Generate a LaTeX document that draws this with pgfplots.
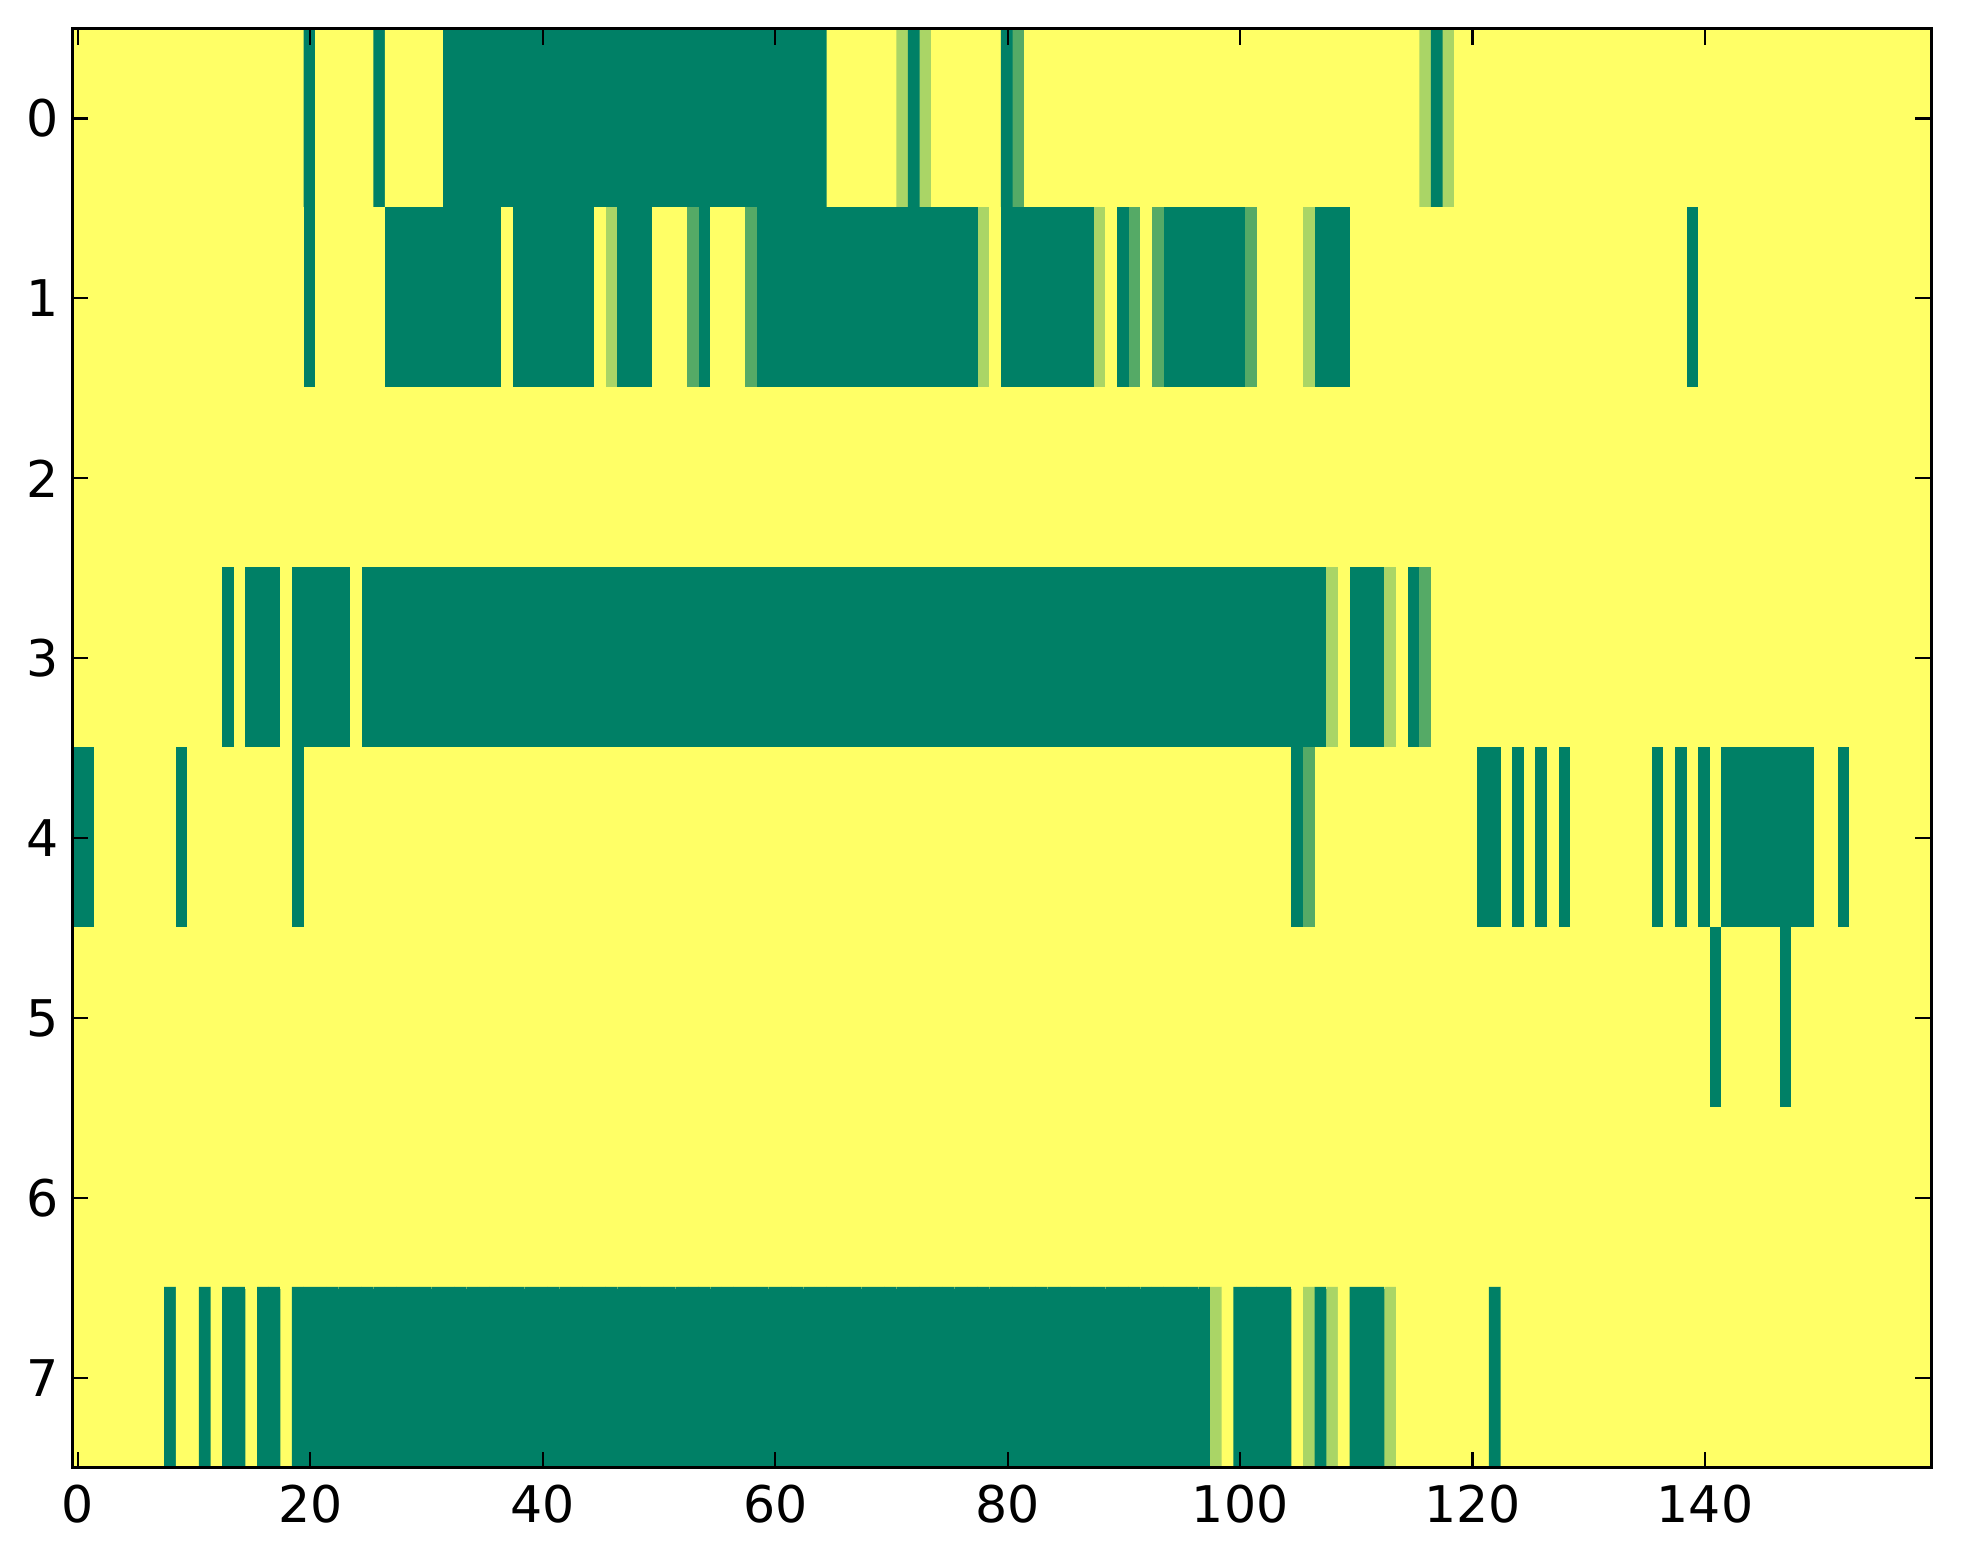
\documentclass[border=0pt]{standalone}
\usepackage{fontspec}
\setmainfont{DejaVu Sans}
\usepackage{pgfplots}
\usepackage{pgfplotstable}
\pgfplotsset{compat=1.18}
% 8 rows x 160 columns, row-major (row 0 first), 10 values per line
% 0 = dark green, 1 = medium green, 2 = light green, 3 = yellow
\pgfplotstableread[header=false,row sep=\\]{
3\\3\\3\\3\\3\\3\\3\\3\\3\\3\\ % r0 c0
3\\3\\3\\3\\3\\3\\3\\3\\3\\3\\ % r0 c10
0\\3\\3\\3\\3\\3\\0\\3\\3\\3\\ % r0 c20
3\\3\\0\\0\\0\\0\\0\\0\\0\\0\\ % r0 c30
0\\0\\0\\0\\0\\0\\0\\0\\0\\0\\ % r0 c40
0\\0\\0\\0\\0\\0\\0\\0\\0\\0\\ % r0 c50
0\\0\\0\\0\\0\\3\\3\\3\\3\\3\\ % r0 c60
3\\2\\0\\2\\3\\3\\3\\3\\3\\3\\ % r0 c70
0\\1\\3\\3\\3\\3\\3\\3\\3\\3\\ % r0 c80
3\\3\\3\\3\\3\\3\\3\\3\\3\\3\\ % r0 c90
3\\3\\3\\3\\3\\3\\3\\3\\3\\3\\ % r0 c100
3\\3\\3\\3\\3\\3\\2\\0\\2\\3\\ % r0 c110
3\\3\\3\\3\\3\\3\\3\\3\\3\\3\\ % r0 c120
3\\3\\3\\3\\3\\3\\3\\3\\3\\3\\ % r0 c130
3\\3\\3\\3\\3\\3\\3\\3\\3\\3\\ % r0 c140
3\\3\\3\\3\\3\\3\\3\\3\\3\\3\\ % r0 c150
3\\3\\3\\3\\3\\3\\3\\3\\3\\3\\ % r1 c0
3\\3\\3\\3\\3\\3\\3\\3\\3\\3\\ % r1 c10
0\\3\\3\\3\\3\\3\\3\\0\\0\\0\\ % r1 c20
0\\0\\0\\0\\0\\0\\0\\3\\0\\0\\ % r1 c30
0\\0\\0\\0\\0\\3\\2\\0\\0\\0\\ % r1 c40
3\\3\\3\\1\\0\\3\\3\\3\\1\\0\\ % r1 c50
0\\0\\0\\0\\0\\0\\0\\0\\0\\0\\ % r1 c60
0\\0\\0\\0\\0\\0\\0\\0\\2\\3\\ % r1 c70
0\\0\\0\\0\\0\\0\\0\\0\\2\\3\\ % r1 c80
0\\1\\3\\1\\0\\0\\0\\0\\0\\0\\ % r1 c90
0\\1\\3\\3\\3\\3\\2\\0\\0\\0\\ % r1 c100
3\\3\\3\\3\\3\\3\\3\\3\\3\\3\\ % r1 c110
3\\3\\3\\3\\3\\3\\3\\3\\3\\3\\ % r1 c120
3\\3\\3\\3\\3\\3\\3\\3\\3\\0\\ % r1 c130
3\\3\\3\\3\\3\\3\\3\\3\\3\\3\\ % r1 c140
3\\3\\3\\3\\3\\3\\3\\3\\3\\3\\ % r1 c150
3\\3\\3\\3\\3\\3\\3\\3\\3\\3\\ % r2 c0
3\\3\\3\\3\\3\\3\\3\\3\\3\\3\\ % r2 c10
3\\3\\3\\3\\3\\3\\3\\3\\3\\3\\ % r2 c20
3\\3\\3\\3\\3\\3\\3\\3\\3\\3\\ % r2 c30
3\\3\\3\\3\\3\\3\\3\\3\\3\\3\\ % r2 c40
3\\3\\3\\3\\3\\3\\3\\3\\3\\3\\ % r2 c50
3\\3\\3\\3\\3\\3\\3\\3\\3\\3\\ % r2 c60
3\\3\\3\\3\\3\\3\\3\\3\\3\\3\\ % r2 c70
3\\3\\3\\3\\3\\3\\3\\3\\3\\3\\ % r2 c80
3\\3\\3\\3\\3\\3\\3\\3\\3\\3\\ % r2 c90
3\\3\\3\\3\\3\\3\\3\\3\\3\\3\\ % r2 c100
3\\3\\3\\3\\3\\3\\3\\3\\3\\3\\ % r2 c110
3\\3\\3\\3\\3\\3\\3\\3\\3\\3\\ % r2 c120
3\\3\\3\\3\\3\\3\\3\\3\\3\\3\\ % r2 c130
3\\3\\3\\3\\3\\3\\3\\3\\3\\3\\ % r2 c140
3\\3\\3\\3\\3\\3\\3\\3\\3\\3\\ % r2 c150
3\\3\\3\\3\\3\\3\\3\\3\\3\\3\\ % r3 c0
3\\3\\3\\0\\3\\0\\0\\0\\3\\0\\ % r3 c10
0\\0\\0\\0\\3\\0\\0\\0\\0\\0\\ % r3 c20
0\\0\\0\\0\\0\\0\\0\\0\\0\\0\\ % r3 c30
0\\0\\0\\0\\0\\0\\0\\0\\0\\0\\ % r3 c40
0\\0\\0\\0\\0\\0\\0\\0\\0\\0\\ % r3 c50
0\\0\\0\\0\\0\\0\\0\\0\\0\\0\\ % r3 c60
0\\0\\0\\0\\0\\0\\0\\0\\0\\0\\ % r3 c70
0\\0\\0\\0\\0\\0\\0\\0\\0\\0\\ % r3 c80
0\\0\\0\\0\\0\\0\\0\\0\\0\\0\\ % r3 c90
0\\0\\0\\0\\0\\0\\0\\0\\2\\3\\ % r3 c100
0\\0\\0\\2\\3\\0\\1\\3\\3\\3\\ % r3 c110
3\\3\\3\\3\\3\\3\\3\\3\\3\\3\\ % r3 c120
3\\3\\3\\3\\3\\3\\3\\3\\3\\3\\ % r3 c130
3\\3\\3\\3\\3\\3\\3\\3\\3\\3\\ % r3 c140
3\\3\\3\\3\\3\\3\\3\\3\\3\\3\\ % r3 c150
0\\0\\3\\3\\3\\3\\3\\3\\3\\0\\ % r4 c0
3\\3\\3\\3\\3\\3\\3\\3\\3\\0\\ % r4 c10
3\\3\\3\\3\\3\\3\\3\\3\\3\\3\\ % r4 c20
3\\3\\3\\3\\3\\3\\3\\3\\3\\3\\ % r4 c30
3\\3\\3\\3\\3\\3\\3\\3\\3\\3\\ % r4 c40
3\\3\\3\\3\\3\\3\\3\\3\\3\\3\\ % r4 c50
3\\3\\3\\3\\3\\3\\3\\3\\3\\3\\ % r4 c60
3\\3\\3\\3\\3\\3\\3\\3\\3\\3\\ % r4 c70
3\\3\\3\\3\\3\\3\\3\\3\\3\\3\\ % r4 c80
3\\3\\3\\3\\3\\3\\3\\3\\3\\3\\ % r4 c90
3\\3\\3\\3\\3\\0\\1\\3\\3\\3\\ % r4 c100
3\\3\\3\\3\\3\\3\\3\\3\\3\\3\\ % r4 c110
3\\0\\0\\3\\0\\3\\0\\3\\0\\3\\ % r4 c120
3\\3\\3\\3\\3\\3\\0\\3\\0\\3\\ % r4 c130
0\\3\\0\\0\\0\\0\\0\\0\\0\\0\\ % r4 c140
3\\3\\0\\3\\3\\3\\3\\3\\3\\3\\ % r4 c150
3\\3\\3\\3\\3\\3\\3\\3\\3\\3\\ % r5 c0
3\\3\\3\\3\\3\\3\\3\\3\\3\\3\\ % r5 c10
3\\3\\3\\3\\3\\3\\3\\3\\3\\3\\ % r5 c20
3\\3\\3\\3\\3\\3\\3\\3\\3\\3\\ % r5 c30
3\\3\\3\\3\\3\\3\\3\\3\\3\\3\\ % r5 c40
3\\3\\3\\3\\3\\3\\3\\3\\3\\3\\ % r5 c50
3\\3\\3\\3\\3\\3\\3\\3\\3\\3\\ % r5 c60
3\\3\\3\\3\\3\\3\\3\\3\\3\\3\\ % r5 c70
3\\3\\3\\3\\3\\3\\3\\3\\3\\3\\ % r5 c80
3\\3\\3\\3\\3\\3\\3\\3\\3\\3\\ % r5 c90
3\\3\\3\\3\\3\\3\\3\\3\\3\\3\\ % r5 c100
3\\3\\3\\3\\3\\3\\3\\3\\3\\3\\ % r5 c110
3\\3\\3\\3\\3\\3\\3\\3\\3\\3\\ % r5 c120
3\\3\\3\\3\\3\\3\\3\\3\\3\\3\\ % r5 c130
3\\0\\3\\3\\3\\3\\3\\0\\3\\3\\ % r5 c140
3\\3\\3\\3\\3\\3\\3\\3\\3\\3\\ % r5 c150
3\\3\\3\\3\\3\\3\\3\\3\\3\\3\\ % r6 c0
3\\3\\3\\3\\3\\3\\3\\3\\3\\3\\ % r6 c10
3\\3\\3\\3\\3\\3\\3\\3\\3\\3\\ % r6 c20
3\\3\\3\\3\\3\\3\\3\\3\\3\\3\\ % r6 c30
3\\3\\3\\3\\3\\3\\3\\3\\3\\3\\ % r6 c40
3\\3\\3\\3\\3\\3\\3\\3\\3\\3\\ % r6 c50
3\\3\\3\\3\\3\\3\\3\\3\\3\\3\\ % r6 c60
3\\3\\3\\3\\3\\3\\3\\3\\3\\3\\ % r6 c70
3\\3\\3\\3\\3\\3\\3\\3\\3\\3\\ % r6 c80
3\\3\\3\\3\\3\\3\\3\\3\\3\\3\\ % r6 c90
3\\3\\3\\3\\3\\3\\3\\3\\3\\3\\ % r6 c100
3\\3\\3\\3\\3\\3\\3\\3\\3\\3\\ % r6 c110
3\\3\\3\\3\\3\\3\\3\\3\\3\\3\\ % r6 c120
3\\3\\3\\3\\3\\3\\3\\3\\3\\3\\ % r6 c130
3\\3\\3\\3\\3\\3\\3\\3\\3\\3\\ % r6 c140
3\\3\\3\\3\\3\\3\\3\\3\\3\\3\\ % r6 c150
3\\3\\3\\3\\3\\3\\3\\3\\0\\3\\ % r7 c0
3\\0\\3\\0\\0\\3\\0\\0\\3\\0\\ % r7 c10
0\\0\\0\\0\\0\\0\\0\\0\\0\\0\\ % r7 c20
0\\0\\0\\0\\0\\0\\0\\0\\0\\0\\ % r7 c30
0\\0\\0\\0\\0\\0\\0\\0\\0\\0\\ % r7 c40
0\\0\\0\\0\\0\\0\\0\\0\\0\\0\\ % r7 c50
0\\0\\0\\0\\0\\0\\0\\0\\0\\0\\ % r7 c60
0\\0\\0\\0\\0\\0\\0\\0\\0\\0\\ % r7 c70
0\\0\\0\\0\\0\\0\\0\\0\\0\\0\\ % r7 c80
0\\0\\0\\0\\0\\0\\0\\0\\2\\3\\ % r7 c90
0\\0\\0\\0\\0\\3\\2\\0\\2\\3\\ % r7 c100
0\\0\\0\\2\\3\\3\\3\\3\\3\\3\\ % r7 c110
3\\3\\0\\3\\3\\3\\3\\3\\3\\3\\ % r7 c120
3\\3\\3\\3\\3\\3\\3\\3\\3\\3\\ % r7 c130
3\\3\\3\\3\\3\\3\\3\\3\\3\\3\\ % r7 c140
3\\3\\3\\3\\3\\3\\3\\3\\3\\3\\ % r7 c150
}\heat
\begin{document}
\begin{tikzpicture}
\useasboundingbox (0,0) rectangle (400pt,318.7pt);
\begin{axis}[
  at={(14.7pt,19.6pt)}, anchor=south west,
  scale only axis, width=378.9pt, height=293.3pt,
  xmin=-0.5, xmax=159.5, ymin=-0.5, ymax=7.5,
  y dir=reverse,
  xtick={0,20,40,60,80,100,120,140},
  ytick={0,1,2,3,4,5,6,7},
  tick pos=both, tick align=inside,
  major tick length=3.3pt,
  tick style={black, line width=0.45pt},
  axis line style={black, line width=0.6pt},
  tick label style={font=\fontsize{10.3}{12}\selectfont},
  yticklabel style={xshift=0.8pt},
  /pgf/number format/assume math mode=true,
  colormap={summer4}{rgb255=(0,128,102) rgb255=(85,170,102) rgb255=(170,213,102) rgb255=(255,255,102)},
  point meta min=0, point meta max=3,
  axis on top,
]
\addplot[matrix plot*, mesh/cols=160, mesh/rows=8, point meta=explicit]
  table[x index=0, y index=0, x expr={mod(\coordindex,160)}, y expr={floor(\coordindex/160)}, meta index=0] {\heat};
\end{axis}
\end{tikzpicture}
\end{document}
